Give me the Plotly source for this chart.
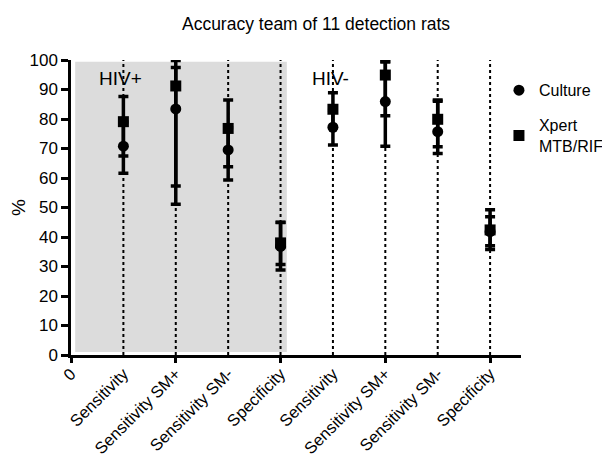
import plotly.graph_objects as go

categories = ["Sensitivity", "Sensitivity SM+", "Sensitivity SM-", "Specificity",
              "Sensitivity", "Sensitivity SM+", "Sensitivity SM-", "Specificity"]
positions = [1, 2, 3, 4, 5, 6, 7, 8]

culture = [70.8, 83.4, 69.5, 36.8, 77.2, 85.9, 75.7, 41.8]
culture_lo = [61.6, 51.1, 59.3, 28.8, 71.2, 70.8, 68.3, 35.8]
culture_hi = [79.0, 97.5, 77.0, 44.9, 83.0, 99.4, 86.0, 46.9]

xpert = [79.1, 91.2, 76.8, 38.0, 83.3, 94.9, 79.9, 42.4]
xpert_lo = [67.5, 57.3, 63.8, 30.7, 77.0, 81.1, 70.6, 37.0]
xpert_hi = [87.6, 99.8, 86.4, 45.0, 88.9, 99.4, 86.4, 49.2]

y_ticks = list(range(0, 101, 10))
group_labels = ["HIV+", "HIV-"]

FONT = "Liberation Sans, Arial, sans-serif"

fig = go.Figure()

# dotted guide lines at each category
for p in positions:
    fig.add_trace(go.Scatter(x=[p, p], y=[0, 100], mode="lines",
                             line=dict(color="black", width=2, dash="dot"),
                             showlegend=False, hoverinfo="skip"))

def add_series(name, vals, lo, hi, symbol, group):
    fig.add_trace(go.Scatter(
        x=positions, y=vals, mode="markers", name=name, legendgroup=group,
        marker=dict(symbol=symbol, size=11, color="black"),
        error_y=dict(type="data", symmetric=False,
                     array=[h - v for h, v in zip(hi, vals)],
                     arrayminus=[v - l for v, l in zip(vals, lo)],
                     color="black", thickness=3.5, width=5),
    ))

add_series("Culture", culture, culture_lo, culture_hi, "circle", "g1")
add_series("Xpert<br>MTB/RIF", xpert, xpert_lo, xpert_hi, "square", "g2")

# dummy axis for even tick marks
fig.add_trace(go.Scatter(x=[0], y=[0], xaxis="x2", mode="markers",
                         marker=dict(opacity=0), showlegend=False, hoverinfo="skip"))

fig.add_shape(type="rect", xref="x", yref="y", x0=0.08, x1=4.12, y0=1, y1=99.4,
              fillcolor="#dcdcdc", line=dict(width=0), layer="below")

fig.add_annotation(x=0.95, y=93.8, text=group_labels[0], showarrow=False, xref="x", yref="y",
                   font=dict(size=19, color="black", family=FONT))
fig.add_annotation(x=4.95, y=93.8, text=group_labels[1], showarrow=False, xref="x", yref="y",
                   font=dict(size=19, color="black", family=FONT))

xr = [0, 8.59]
fig.update_layout(
    width=610, height=461,
    margin=dict(l=63, r=97, t=52, b=114, autoexpand=False),
    paper_bgcolor="white", plot_bgcolor="white",
    font=dict(family=FONT, color="black", size=16),
    title=dict(text="Accuracy team of 11 detection rats", xref="container", x=0.505,
               xanchor="center", yref="container", y=1 - 16 / 461, yanchor="middle",
               font=dict(size=17.5)),
    xaxis=dict(range=xr, tickmode="array", tickvals=[0] + positions,
               ticktext=["0"] + categories, tickangle=-45, ticks="",
               showline=True, linecolor="black", linewidth=2.5, automargin=False,
               showgrid=False, zeroline=False, tickfont=dict(size=16.5)),
    xaxis2=dict(range=xr, overlaying="x", side="bottom", anchor="y",
                tickmode="array", tickvals=[0, 2, 4, 6, 8], ticks="outside",
                ticklen=7, tickwidth=2.5, tickcolor="black", showticklabels=False,
                showgrid=False, zeroline=False, showline=False, automargin=False),
    yaxis=dict(range=[0, 100], tickmode="array", tickvals=y_ticks, ticks="outside",
               ticklen=7, tickwidth=2.5, tickcolor="black", showline=True,
               linecolor="black", linewidth=2.5, showgrid=False, zeroline=False,
               automargin=False,
               title=dict(text="%", standoff=14), tickfont=dict(size=17)),
    legend=dict(x=0.951, xanchor="left", y=0.955, yanchor="top",
                font=dict(size=16), bgcolor="rgba(0,0,0,0)", tracegroupgap=11),
    showlegend=True,
)

fig.write_html("out.html")
